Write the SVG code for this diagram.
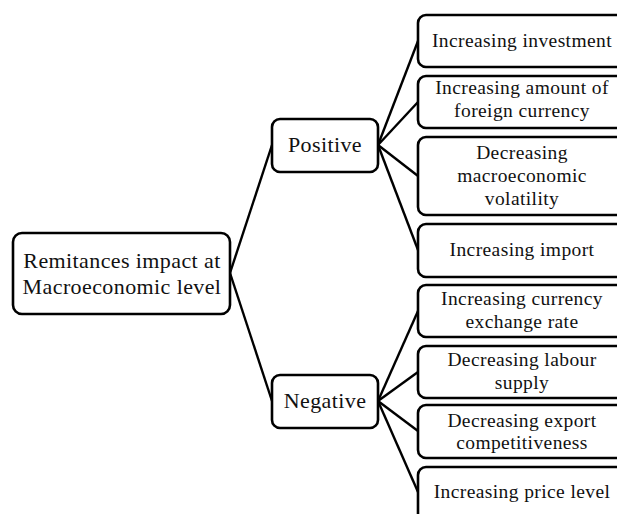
<svg xmlns="http://www.w3.org/2000/svg" width="617" height="514" viewBox="0 0 617 514">
<style>
.box{fill:#fff;stroke:#000;stroke-width:2.6}
.t{font-family:"Liberation Serif",serif;font-size:19.5px;letter-spacing:0.4px;fill:#111;text-anchor:middle}
.big{font-size:22px}
.c{stroke:#000;stroke-width:2.4;fill:none}
</style>
<rect width="617" height="514" fill="#fff"/>
<g id="connectors">
<line class="c" x1="230" y1="273" x2="272" y2="145"/>
<line class="c" x1="230" y1="273" x2="272" y2="401"/>
<line class="c" x1="378" y1="145" x2="418" y2="41"/>
<line class="c" x1="378" y1="145" x2="418" y2="102"/>
<line class="c" x1="378" y1="145" x2="418" y2="176"/>
<line class="c" x1="378" y1="145" x2="418" y2="250"/>
<line class="c" x1="378" y1="401" x2="418" y2="311"/>
<line class="c" x1="378" y1="401" x2="418" y2="372"/>
<line class="c" x1="378" y1="401" x2="418" y2="431"/>
<line class="c" x1="378" y1="401" x2="418" y2="492"/>
</g>
<g id="root">
<rect class="box" x="13" y="233" width="217" height="81" rx="9"/>
<text class="t big" x="122" y="268">Remitances impact at</text>
<text class="t big" x="122" y="294">Macroeconomic level</text>
</g>
<g id="positive">
<rect class="box" x="272" y="119" width="106" height="53" rx="8"/>
<text class="t big" x="325" y="152">Positive</text>
</g>
<g id="negative">
<rect class="box" x="272" y="375" width="106" height="53" rx="8"/>
<text class="t big" x="325" y="408">Negative</text>
</g>
<g id="p1">
<rect class="box" x="418" y="15" width="210" height="52" rx="8"/>
<text class="t" x="522" y="47">Increasing investment</text>
</g>
<g id="p2">
<rect class="box" x="418" y="76" width="210" height="52" rx="8"/>
<text class="t" x="522" y="94">Increasing amount of</text>
<text class="t" x="522" y="117">foreign currency</text>
</g>
<g id="p3">
<rect class="box" x="418" y="137" width="210" height="78" rx="8"/>
<text class="t" x="522" y="159">Decreasing</text>
<text class="t" x="522" y="182">macroeconomic</text>
<text class="t" x="522" y="205">volatility</text>
</g>
<g id="p4">
<rect class="box" x="418" y="224" width="210" height="53" rx="8"/>
<text class="t" x="522" y="256">Increasing import</text>
</g>
<g id="n1">
<rect class="box" x="418" y="285" width="210" height="52" rx="8"/>
<text class="t" x="522" y="305">Increasing currency</text>
<text class="t" x="522" y="328">exchange rate</text>
</g>
<g id="n2">
<rect class="box" x="418" y="346" width="210" height="52" rx="8"/>
<text class="t" x="522" y="366">Decreasing labour</text>
<text class="t" x="522" y="389">supply</text>
</g>
<g id="n3">
<rect class="box" x="418" y="405" width="210" height="53" rx="8"/>
<text class="t" x="522" y="427">Decreasing export</text>
<text class="t" x="522" y="449">competitiveness</text>
</g>
<g id="n4">
<rect class="box" x="418" y="467" width="210" height="55" rx="8"/>
<text class="t" x="522" y="498">Increasing price level</text>
</g>
</svg>
